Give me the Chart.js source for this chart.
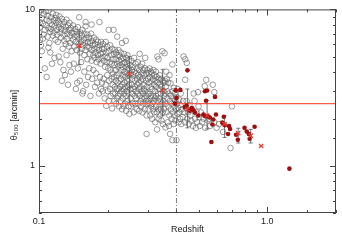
<!DOCTYPE html>
<html>
<head>
<meta charset="utf-8">
<script src="https://cdn.jsdelivr.net/npm/chart.js@4.4.1/dist/chart.umd.min.js"></script>
<style>
html, body { margin: 0; padding: 0; background: #fff; }
#wrap { width: 342px; height: 241px; }
</style>
</head>
<body>
<div id="wrap"><canvas id="theta"></canvas></div>
<script>
// full sample: [redshift, theta500]
const cloud = [
    [0.100,9.6],[0.101,8.3],[0.100,7.1],[0.102,9.9],[0.103,8.8],[0.101,7.7],[0.104,6.5],[0.102,5.9],
    [0.105,9.3],[0.104,8.1],[0.106,7.4],[0.105,6.9],[0.107,9.7],[0.108,8.6],[0.107,7.9],[0.106,4.2],
    [0.109,9.1],[0.110,7.6],[0.109,6.7],[0.111,8.4],[0.110,9.8],[0.112,7.2],[0.111,6.1],[0.113,8.9],
    [0.114,8.0],[0.113,7.5],[0.112,5.3],[0.115,9.4],[0.116,8.5],[0.115,6.8],[0.117,7.8],[0.116,7.1],
    [0.118,8.8],[0.119,8.2],[0.118,6.4],[0.120,7.4],[0.119,9.2],[0.117,4.9],[0.108,3.7],[0.114,4.5],
    [0.103,5.4],[0.110,5.7],[0.120,6.9],[0.101,6.4],
    [0.121,8.5],[0.122,7.7],[0.121,6.2],[0.123,9.0],[0.124,7.1],[0.123,8.1],[0.125,6.6],[0.126,8.7],
    [0.125,7.5],[0.127,7.9],[0.128,6.9],[0.127,5.6],[0.129,8.3],[0.130,7.3],[0.129,6.3],[0.131,7.7],
    [0.132,8.6],[0.131,6.0],[0.133,7.0],[0.134,7.9],[0.133,6.5],[0.135,7.4],[0.136,8.2],[0.135,5.8],
    [0.137,6.8],[0.138,7.6],[0.137,6.1],[0.139,7.1],[0.139,5.4],[0.124,4.6],[0.128,4.1],[0.130,3.8],
    [0.134,3.3],[0.136,4.4],[0.122,5.0],[0.126,3.5],[0.132,5.1],[0.138,4.0],
    [0.141,7.9],[0.142,7.0],[0.141,6.4],[0.143,6.7],[0.144,7.5],[0.143,5.8],[0.145,6.2],[0.146,7.2],
    [0.146,5.5],[0.147,6.8],[0.148,7.7],[0.149,6.0],[0.150,6.5],[0.150,8.9],[0.151,5.3],[0.152,7.1],
    [0.153,6.2],[0.154,6.8],[0.154,5.6],[0.155,7.4],[0.156,5.9],[0.157,6.4],[0.158,5.1],[0.158,7.0],
    [0.159,6.1],[0.160,7.8],[0.160,5.5],[0.161,6.6],[0.162,5.8],[0.163,6.9],[0.163,4.8],[0.164,6.2],
    [0.142,4.5],[0.145,3.1],[0.148,4.2],[0.151,3.5],[0.153,4.6],[0.156,3.0],[0.158,4.0],[0.161,3.3],
    [0.164,3.7],[0.147,3.4],[0.155,2.9],
    [0.166,5.7],[0.166,6.6],[0.167,5.2],[0.168,6.1],[0.169,7.0],[0.170,5.5],[0.170,4.7],[0.171,6.3],
    [0.172,5.9],[0.173,5.1],[0.174,6.6],[0.175,5.6],[0.175,4.9],[0.176,6.0],[0.177,5.3],[0.178,6.4],
    [0.179,4.6],[0.180,5.7],[0.181,5.1],[0.181,6.2],[0.182,4.8],[0.183,5.5],[0.184,8.3],[0.185,5.9],
    [0.186,4.5],[0.186,5.2],[0.187,6.2],[0.188,4.9],[0.189,5.6],
    [0.166,4.2],[0.168,2.8],[0.171,3.6],[0.173,4.1],[0.176,3.2],[0.178,3.9],[0.180,3.4],[0.183,2.9],
    [0.185,3.7],[0.187,3.1],[0.189,3.4],[0.170,8.0],[0.160,8.3],
    [0.190,5.3],[0.191,6.0],[0.192,4.7],[0.193,5.6],[0.194,5.0],[0.195,4.3],[0.196,6.2],[0.197,5.3],
    [0.198,4.6],[0.199,5.8],[0.200,4.9],[0.201,4.2],[0.202,7.4],[0.203,5.4],[0.204,4.6],[0.205,5.9],
    [0.206,4.1],[0.207,5.1],[0.208,4.5],[0.209,5.6],[0.210,4.8],[0.211,3.9],[0.212,7.4],[0.213,5.2],
    [0.214,4.4],[0.215,5.5],[0.216,4.1],[0.217,4.8],[0.218,5.3],[0.219,3.8],[0.220,6.7],[0.220,4.5],
    [0.190,3.0],[0.192,3.6],[0.194,2.7],[0.196,3.3],[0.197,2.42],[0.199,3.8],[0.200,3.0],[0.202,2.6],
    [0.203,3.5],[0.205,3.1],[0.206,2.8],[0.208,3.6],[0.209,2.33],[0.210,3.3],[0.211,2.9],[0.213,3.7],
    [0.214,2.6],[0.215,3.2],[0.216,2.9],[0.217,3.5],[0.218,2.5],[0.219,3.1],[0.220,2.7],
    [0.221,5.1],[0.222,4.3],[0.223,5.5],[0.224,4.7],[0.225,3.9],[0.226,5.0],[0.227,4.4],[0.228,5.3],
    [0.229,4.1],[0.230,4.8],[0.231,6.1],[0.232,4.3],[0.233,3.8],[0.234,4.9],[0.235,4.5],[0.236,5.2],
    [0.237,4.0],[0.238,4.6],[0.239,3.7],[0.240,6.3],[0.240,4.3],[0.241,4.9],[0.242,3.9],[0.243,4.5],
    [0.244,5.1],[0.245,4.1],[0.246,3.6],[0.247,4.7],[0.248,4.2],[0.249,3.8],
    [0.221,3.4],[0.222,2.8],[0.223,3.1],[0.224,2.4],[0.225,3.5],[0.226,2.9],[0.227,3.2],[0.228,2.6],
    [0.229,3.6],[0.230,3.0],[0.231,2.3],[0.232,3.3],[0.233,2.7],[0.234,2.42],[0.235,3.1],[0.236,2.9],
    [0.237,3.4],[0.238,2.5],[0.239,3.2],[0.240,2.8],[0.241,2.25],[0.242,3.0],[0.243,3.5],[0.244,2.6],
    [0.245,3.2],[0.246,2.9],[0.247,2.4],[0.248,3.3],[0.249,2.15],
    [0.251,4.4],[0.252,3.9],[0.254,4.7],[0.255,4.1],[0.256,3.6],[0.258,4.3],[0.259,3.8],[0.261,4.9],
    [0.262,4.0],[0.263,3.5],[0.265,4.5],[0.266,3.9],[0.268,4.2],[0.269,3.6],[0.271,4.6],[0.272,3.8],
    [0.273,3.4],[0.275,4.1],[0.276,5.2],[0.277,3.7],[0.279,4.3],[0.280,3.5],[0.282,3.9],[0.283,4.5],
    [0.285,3.6],[0.286,4.1],[0.288,3.3],[0.289,3.8],[0.291,4.2],[0.292,4.9],[0.294,3.5],[0.295,3.9],
    [0.297,3.2],[0.298,4.1],[0.300,3.6],
    [0.251,3.1],[0.252,2.7],[0.253,2.4],[0.255,3.3],[0.256,2.9],[0.257,2.5],[0.259,3.1],[0.260,2.2],
    [0.262,2.8],[0.263,3.2],[0.264,2.5],[0.266,3.0],[0.267,2.7],[0.268,2.3],[0.270,3.3],[0.271,2.9],
    [0.272,2.5],[0.274,3.1],[0.275,2.25],[0.276,2.8],[0.278,3.2],[0.279,2.6],[0.280,2.4],[0.282,3.0],
    [0.283,2.7],[0.284,2.2],[0.286,2.9],[0.287,2.5],[0.288,3.1],[0.290,2.7],[0.291,2.3],[0.292,3.0],
    [0.294,2.6],[0.295,2.8],[0.296,2.1],[0.298,2.5],[0.299,2.9],[0.296,1.6],
    [0.302,3.9],[0.303,3.4],[0.305,4.2],[0.306,3.7],[0.308,3.2],[0.309,4.0],[0.311,3.5],[0.313,3.9],
    [0.314,3.1],[0.316,3.6],[0.317,4.1],[0.319,3.3],[0.320,3.8],[0.322,3.0],[0.323,3.5],[0.325,4.0],
    [0.326,3.2],[0.328,3.7],[0.330,5.0],[0.331,3.4],[0.332,2.9],[0.334,4.8],[0.335,3.6],[0.337,3.1],
    [0.338,3.8],[0.340,3.3],[0.342,2.9],[0.343,3.6],[0.345,3.2],[0.347,5.4],[0.348,3.5],[0.350,3.0],
    [0.352,3.4],[0.354,2.8],
    [0.301,2.6],[0.302,2.3],[0.304,2.9],[0.305,2.5],[0.307,2.1],[0.308,2.8],[0.310,2.4],[0.311,2.7],
    [0.313,2.0],[0.314,2.5],[0.316,2.8],[0.317,2.3],[0.319,2.6],[0.320,2.2],[0.322,2.7],[0.323,1.9],
    [0.325,2.4],[0.326,2.8],[0.328,2.2],[0.329,1.71],[0.331,2.6],[0.333,2.3],[0.334,2.0],[0.336,2.7],
    [0.337,2.4],[0.339,2.1],[0.341,2.6],[0.342,2.3],[0.344,1.95],[0.346,2.5],[0.348,2.2],[0.349,1.85],
    [0.351,2.6],[0.353,2.3],
    [0.355,5.25],[0.356,3.5],[0.357,2.9],[0.359,3.2],[0.360,2.5],[0.361,4.0],[0.362,2.2],[0.364,3.0],
    [0.365,2.7],[0.366,1.9],[0.368,3.4],[0.369,2.4],[0.370,2.9],[0.372,2.1],[0.373,3.8],[0.374,2.6],
    [0.375,1.6],[0.377,3.37],[0.378,2.3],[0.379,2.8],[0.381,2.0],[0.382,2.5],[0.384,4.45],[0.384,1.46],
    [0.385,3.0],[0.386,2.2],[0.388,2.7],[0.389,1.85],[0.390,3.15],[0.391,2.4],[0.393,2.1],[0.394,2.9],
    [0.395,2.6],[0.396,1.95],[0.398,2.3],[0.399,2.75],[0.400,1.46],[0.402,2.5],[0.404,2.15],[0.405,3.1],
    [0.407,2.35],[0.409,1.9],[0.411,2.65],[0.413,2.2],[0.415,2.0],[0.417,2.45],[0.418,2.9],[0.420,1.85],
    [0.358,1.76],[0.371,1.8],[0.363,3.6],
    [0.423,2.3],[0.426,2.05],[0.428,2.6],[0.430,5.0],[0.432,2.2],[0.435,1.9],[0.437,4.8],[0.437,3.55],
    [0.440,2.35],[0.443,2.6],[0.444,4.55],[0.446,2.0],[0.450,2.2],[0.453,1.85],[0.456,2.45],[0.460,2.1],
    [0.464,1.95],[0.468,2.3],[0.472,1.8],[0.476,2.9],[0.480,2.6],[0.482,2.0],[0.486,1.75],[0.490,2.2],
    [0.493,1.9],[0.497,2.96],[0.500,2.4],[0.503,2.05],[0.506,1.8],[0.512,2.2],[0.518,1.9],[0.525,2.0],
    [0.532,3.23],[0.535,1.75],[0.540,3.55],[0.548,1.95],[0.556,2.0],[0.562,1.8],[0.577,3.3],[0.585,1.9],
    [0.586,2.96],[0.600,1.75],[0.615,1.85],[0.640,1.65],[0.690,1.3],[0.700,2.4]
];

// high-z subsample (filled red)
const redZ = [0.447, 0.397, 0.416, 0.400, 0.533, 0.545, 0.539, 0.590, 0.394, 0.443,
    0.435, 0.457, 0.467, 0.475, 0.482, 0.499, 0.525, 0.533, 0.548, 0.560,
    0.580, 0.575, 0.596, 0.635, 0.652, 0.645, 0.680, 0.687, 0.673, 0.730,
    0.743, 0.795, 0.813, 0.830, 0.880, 0.837, 0.569, 1.25];
const redTheta = [4.08, 3.04, 3.06, 2.72, 3.00, 3.03, 2.61, 2.76, 2.50, 2.43,
    2.38, 2.25, 2.34, 2.27, 2.19, 2.10, 2.13, 2.08, 2.08, 2.04,
    1.98, 1.84, 2.13, 1.89, 1.82, 2.06, 1.80, 1.72, 1.60, 1.58,
    1.47, 1.75, 1.66, 1.60, 1.78, 1.49, 1.42, 0.96];

// binned stacks (red crosses with scatter bars)
const stackZ = [0.150, 0.249, 0.348, 0.447, 0.545, 0.650, 0.746, 0.846, 0.940];
const stackTheta = [5.85, 3.88, 3.03, 2.30, 2.10, 1.85, 1.62, 1.56, 1.34];
const stackLow = [4.45, 2.55, 2.09, 1.75, 1.72, 1.52, 1.40, 1.40, null];
const stackHigh = [7.20, 5.00, 4.14, 3.10, 2.62, 2.09, 1.74, 1.71, null];
const lastZLow = 0.915;
const lastZHigh = 0.965;

const cutZ = 0.4;
const cutTheta = 2.5;

const xLabelAt = [0.1, 1];
const xLabelText = ['0.1', '1.0'];
const yLabelAt = [1, 10];
const yLabelText = ['1', '10'];

function labelFor(v, at, text) {
    const i = at.findIndex(function(t) { return Math.abs(v - t) / t < 1e-6; });
    return i < 0 ? '' : text[i];
}
function isDecade(v) {
    const l = Math.log10(v);
    return Math.abs(l - Math.round(l)) < 1e-6;
}

const bars = [];
stackZ.forEach(function(z, i) {
    if (stackLow[i] === null) return;
    bars.push({
        type: 'line',
        data: [{x: z, y: stackLow[i]}, {x: z, y: stackHigh[i]}],
        borderColor: '#555',
        borderWidth: 0.8,
        pointStyle: 'line',
        pointRadius: 2,
        pointBorderWidth: 0.8,
        pointBorderColor: '#555',
        fill: false,
        order: 2
    });
});
bars.push({
    type: 'line',
    data: [{x: lastZLow, y: stackTheta[8]}, {x: lastZHigh, y: stackTheta[8]}],
    borderColor: '#888',
    borderWidth: 0.8,
    pointRadius: 0,
    fill: false,
    order: 2
});

const frameTicks = {
    id: 'frameTicks',
    afterDatasetsDraw(chart) {
        const ctx = chart.ctx;
        const a = chart.chartArea;
        const x = chart.scales.x;
        const y = chart.scales.y;
        ctx.save();
        ctx.strokeStyle = '#444';
        ctx.lineWidth = 1;
        ctx.strokeRect(a.left + 0.5, a.top + 0.5, a.right - a.left - 1, a.bottom - a.top - 1);
        ctx.beginPath();
        x.ticks.forEach(function(t) {
            const px = Math.round(x.getPixelForValue(t.value)) + 0.5;
            const len = isDecade(t.value) ? 6 : 3;
            ctx.moveTo(px, a.bottom); ctx.lineTo(px, a.bottom - len);
            ctx.moveTo(px, a.top); ctx.lineTo(px, a.top + len);
        });
        y.ticks.forEach(function(t) {
            const py = Math.round(y.getPixelForValue(t.value)) + 0.5;
            const len = isDecade(t.value) ? 6 : 3;
            ctx.moveTo(a.left, py); ctx.lineTo(a.left + len, py);
            ctx.moveTo(a.right, py); ctx.lineTo(a.right - len, py);
        });
        ctx.stroke();
        ctx.restore();
    }
};

const font = {family: 'Liberation Sans, Arial, sans-serif', size: 9};

const ctx = document.getElementById('theta');
const chart = new Chart(ctx, {
    type: 'scatter',
    data: {
        datasets: [
        {
            label: 'stacks',
            data: stackZ.map(function(z, i) { return {x: z, y: stackTheta[i]}; }),
            pointStyle: 'crossRot',
            pointRadius: 3,
            pointBorderWidth: 1.2,
            pointBorderColor: '#e8392c',
            pointBackgroundColor: '#e8392c',
            order: 0
        },
        {
            label: 'high z',
            data: redZ.map(function(z, i) { return {x: z, y: redTheta[i]}; }),
            pointStyle: 'circle',
            pointRadius: 2.3,
            pointBorderWidth: 0,
            pointBackgroundColor: '#9e0f0f',
            order: 1
        },
        ...bars,
        {
            type: 'line',
            label: 'z cut',
            data: [{x: cutZ, y: 0.5}, {x: cutZ, y: 10}],
            borderColor: '#555',
            borderWidth: 0.8,
            borderDash: [5, 2, 1, 2],
            pointRadius: 0,
            fill: false,
            order: 3
        },
        {
            type: 'line',
            label: 'theta cut',
            data: [{x: 0.1, y: cutTheta}, {x: 2.0, y: cutTheta}],
            borderColor: '#ff5a48',
            borderWidth: 1.2,
            pointRadius: 0,
            fill: false,
            order: 3
        },
        {
            label: 'sample',
            data: cloud.map(function(p) { return {x: p[0], y: p[1]}; }),
            pointStyle: 'circle',
            pointRadius: 2.8,
            pointBorderWidth: 0.65,
            pointBorderColor: '#666',
            pointBackgroundColor: 'rgba(0,0,0,0)',
            order: 4
        }
        ]
    },
    options: {
        responsive: true,
        maintainAspectRatio: false,
        animation: false,
        layout: {padding: {top: 7, right: 6, left: 0, bottom: 0}},
        plugins: {legend: {display: false}, tooltip: {enabled: false}},
        scales: {
            x: {
                type: 'logarithmic',
                min: 0.1,
                max: 2.0,
                grid: {display: false, drawTicks: false},
                border: {display: false},
                ticks: {
                    autoSkip: false, maxRotation: 0, padding: 3, color: '#222', font: font,
                    callback: function(v) { return labelFor(v, xLabelAt, xLabelText); }
                },
                title: {display: true, text: 'Redshift', color: '#222', font: font, padding: {top: 0, bottom: 6}},
                afterFit: function(s) { s.height = 28; }
            },
            y: {
                type: 'logarithmic',
                min: 0.5,
                max: 10,
                grid: {display: false, drawTicks: false},
                border: {display: false},
                ticks: {
                    autoSkip: false, padding: 4, color: '#222', font: font,
                    callback: function(v) { return labelFor(v, yLabelAt, yLabelText); }
                },
                title: {display: true, text: 'θ₅₀₀ [arcmin]   ', color: '#222', font: font, padding: {top: 9, bottom: 0}},
                afterFit: function(s) { s.width = 39; }
            }
        }
    },
    plugins: [frameTicks]
});
</script>
</body>
</html>
